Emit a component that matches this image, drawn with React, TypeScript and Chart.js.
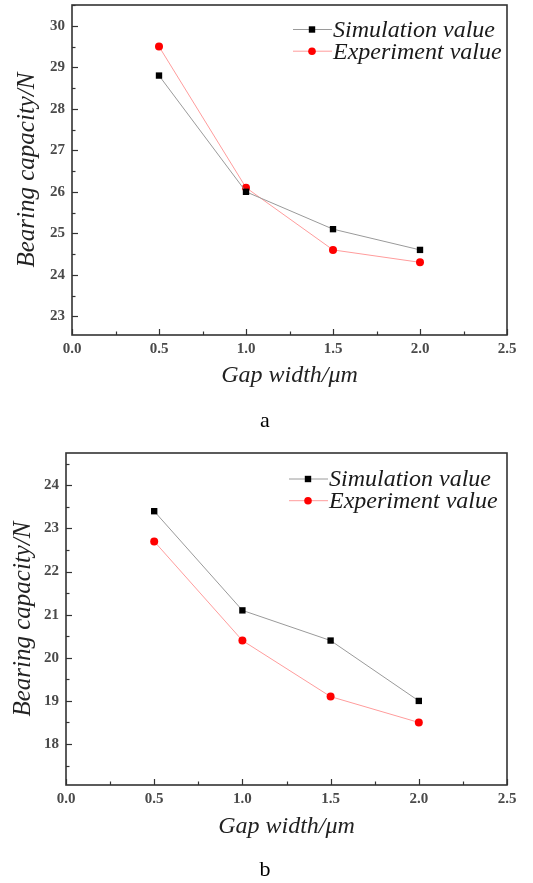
import React, { useEffect, useRef } from "react";
import { Chart, registerables } from "chart.js";
Chart.register(...registerables);

const gapWidths = [0.5, 1.0, 1.5, 2.0];
const simulationA = [28.8, 26.0, 25.1, 24.6];
const experimentA = [29.5, 26.1, 24.6, 24.3];
const simulationB = [23.4, 21.1, 20.4, 19.0];
const experimentB = [22.7, 20.4, 19.1, 18.5];
const seriesLabels = ["Simulation value", "Experiment value"];
const xTitle = "Gap width/μm";
const yTitle = "Bearing capacity/N";
const captions = ["a", "b"];

const frameColor = "#333";

function minorValues(ticks: number[], min: number, max: number) {
  if (ticks.length < 2) return [];
  const half = (ticks[1] - ticks[0]) / 2;
  const out: number[] = [];
  const candidates = [ticks[0] - half, ...ticks.map((t) => t + half)];
  candidates.forEach((v) => {
    if (v >= min - 1e-9 && v <= max + 1e-9) out.push(v);
  });
  return out;
}

const framePlugin = {
  id: "frame",
  afterDatasetsDraw(chart: any, _args: any, opts: any) {
    const { ctx, chartArea: a, scales } = chart;
    const xs = scales.x;
    const ys = scales.y;
    ctx.save();
    ctx.strokeStyle = frameColor;
    ctx.lineWidth = 1.2;
    const line = (x1: number, y1: number, x2: number, y2: number) => {
      ctx.beginPath();
      ctx.moveTo(x1, y1);
      ctx.lineTo(x2, y2);
      ctx.stroke();
    };
    const xt = xs.ticks.map((t: any) => t.value);
    xt.forEach((v: number) => {
      const p = Math.round(xs.getPixelForValue(v)) + 0.5;
      line(p, a.bottom, p, a.bottom - 6);
    });
    minorValues(xt, xs.min, xs.max).forEach((v) => {
      const p = Math.round(xs.getPixelForValue(v)) + 0.5;
      line(p, a.bottom, p, a.bottom - 3.5);
    });
    const yt = ys.ticks.map((t: any) => t.value);
    yt.forEach((v: number) => {
      const p = Math.round(ys.getPixelForValue(v)) + 0.5;
      line(a.left, p, a.left + 6, p);
    });
    minorValues(yt, ys.min, ys.max).forEach((v) => {
      const p = Math.round(ys.getPixelForValue(v)) + 0.5;
      line(a.left, p, a.left + 3.5, p);
    });
    ctx.lineWidth = 1.6;
    ctx.strokeRect(a.left, a.top, a.right - a.left, a.bottom - a.top);

    // legend
    const { lx, ly, rowH } = opts;
    chart.data.datasets.forEach((ds: any, i: number) => {
      const y = ly + i * rowH;
      ctx.strokeStyle = ds.borderColor;
      ctx.lineWidth = 1;
      line(lx, y, lx + 39, y);
      ctx.fillStyle = ds.pointBackgroundColor;
      if (ds.pointStyle === "rect") {
        ctx.fillRect(lx + 19 - 3.2, y - 3.2, 6.4, 6.4);
      } else {
        ctx.beginPath();
        ctx.arc(lx + 19, y, 3.8, 0, Math.PI * 2);
        ctx.fill();
      }
      ctx.fillStyle = "#1a1a1a";
      ctx.font = "italic 24px 'Liberation Serif'";
      ctx.textBaseline = "middle";
      ctx.textAlign = "left";
      ctx.fillText(ds.label, lx + 40, y + 1);
    });
    ctx.restore();
  },
};

type PanelProps = {
  top: number;
  height: number;
  sim: number[];
  exp: number[];
  yMin: number;
  yMax: number;
  plotTop: number;
  plotLeft: number;
  xAxisHeight: number;
  yTitlePad: number;
  xTitlePad: number;
  lx: number;
  ly: number;
};

function Panel(p: PanelProps) {
  const ref = useRef<HTMLCanvasElement>(null);
  useEffect(() => {
    if (!ref.current) return;
    const tickFont = { family: "'Liberation Serif'", size: 15, weight: "bold" as const };
    const titleFont = { family: "'Liberation Serif'", size: 24, style: "italic" as const };
    const yTitleFont = { family: "'Liberation Serif'", size: 25, style: "italic" as const };
    const chart = new Chart(ref.current, {
      type: "line",
      data: {
        datasets: [
          {
            label: seriesLabels[0],
            data: gapWidths.map((x, i) => ({ x, y: p.sim[i] })),
            borderColor: "#9a9a9a",
            borderWidth: 1,
            pointStyle: "rect",
            pointRadius: 4.5,
            pointBackgroundColor: "#000",
            pointBorderColor: "#000",
            pointBorderWidth: 0,
            tension: 0,
          },
          {
            label: seriesLabels[1],
            data: gapWidths.map((x, i) => ({ x, y: p.exp[i] })),
            borderColor: "#ff9c9c",
            borderWidth: 1,
            pointStyle: "circle",
            pointRadius: 4,
            pointBackgroundColor: "#ff0000",
            pointBorderColor: "#ff0000",
            pointBorderWidth: 0,
            tension: 0,
          },
        ],
      },
      options: {
        animation: false,
        responsive: false,
        layout: { padding: { top: p.plotTop, right: 533 - 507, left: 0, bottom: 0 } },
        plugins: {
          legend: { display: false },
          tooltip: { enabled: false },
          frame: { lx: p.lx, ly: p.ly, rowH: 21.7 },
        } as any,
        scales: {
          x: {
            type: "linear",
            min: 0,
            max: 2.5,
            grid: { display: false, drawTicks: false },
            border: { display: false },
            ticks: {
              stepSize: 0.5,
              padding: 5,
              color: "#4a4a4a",
              font: tickFont,
              callback: (v: any) => Number(v).toFixed(1),
            },
            title: {
              display: true,
              text: xTitle,
              color: "#222",
              font: titleFont,
              padding: { top: 0, bottom: p.xTitlePad },
            },
            afterFit: (s: any) => {
              s.height = p.xAxisHeight;
              s.paddingLeft = 0;
              s.paddingRight = 0;
            },
          },
          y: {
            type: "linear",
            min: p.yMin,
            max: p.yMax,
            grid: { display: false, drawTicks: false },
            border: { display: false },
            ticks: {
              stepSize: 1,
              includeBounds: false,
              padding: 7,
              color: "#4a4a4a",
              font: tickFont,
            },
            title: {
              display: true,
              text: yTitle,
              color: "#222",
              font: yTitleFont,
              padding: { top: p.yTitlePad, bottom: 0 },
            },
            afterFit: (s: any) => {
              s.width = p.plotLeft;
              s.paddingTop = 0;
              s.paddingBottom = 0;
            },
          },
        },
      },
      plugins: [framePlugin],
    });
    return () => chart.destroy();
  }, []);
  return (
    <canvas
      ref={ref}
      width={533}
      height={p.height}
      style={{ position: "absolute", left: 0, top: p.top, width: 533, height: p.height }}
    />
  );
}

const captionStyle: React.CSSProperties = {
  position: "absolute",
  left: 245,
  width: 40,
  textAlign: "center",
  fontFamily: "'Liberation Serif'",
  fontSize: 22,
  lineHeight: "22px",
  color: "#000",
};

export default function App() {
  return (
    <div style={{ position: "absolute", left: 0, top: 0, width: 533, height: 883, background: "#fff" }}>
      <Panel
        top={0}
        height={440}
        sim={simulationA}
        exp={experimentA}
        yMin={22.55}
        yMax={30.5}
        plotTop={5}
        plotLeft={72}
        xAxisHeight={105}
        yTitlePad={12}
        xTitlePad={49.6}
        lx={293}
        ly={29.5}
      />
      <div style={{ ...captionStyle, top: 409 }}>{captions[0]}</div>
      <Panel
        top={440}
        height={443}
        sim={simulationB}
        exp={experimentB}
        yMin={17.05}
        yMax={24.75}
        plotTop={13}
        plotLeft={66}
        xAxisHeight={98}
        yTitlePad={8}
        xTitlePad={41.6}
        lx={289}
        ly={39}
      />
      <div style={{ ...captionStyle, top: 858 }}>{captions[1]}</div>
    </div>
  );
}
